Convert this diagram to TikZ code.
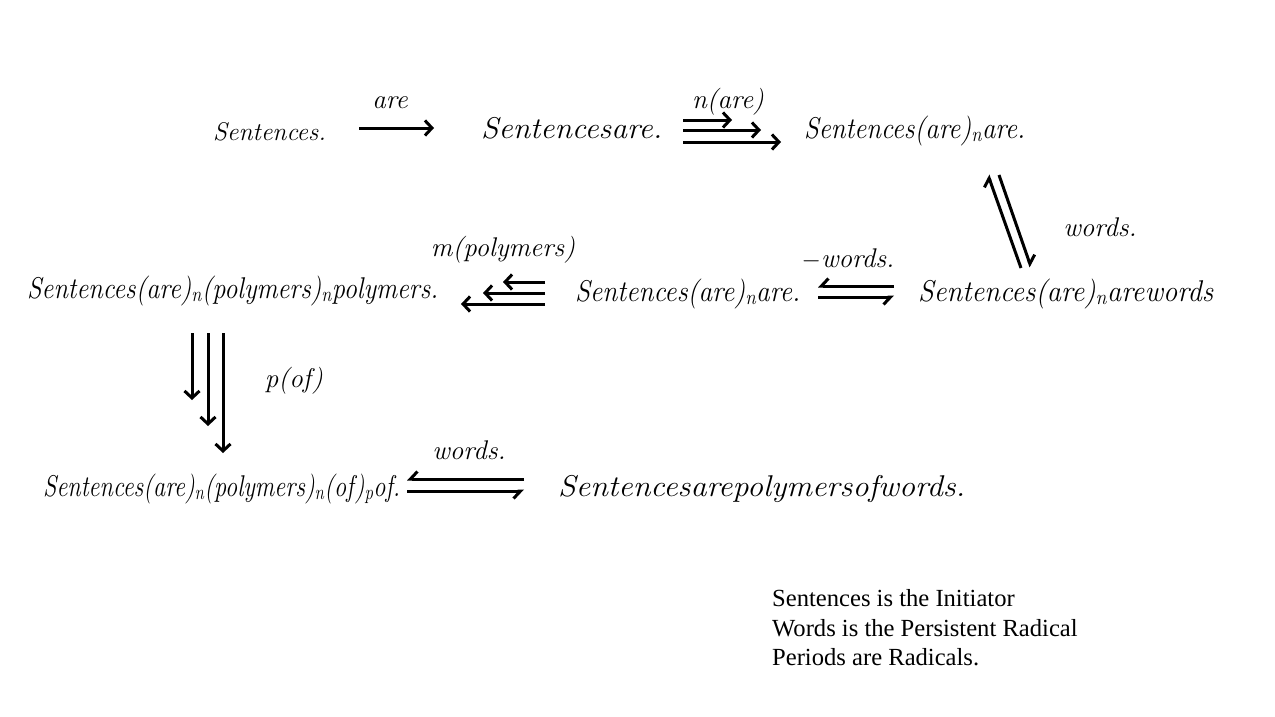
\documentclass[tikz,border=0pt]{standalone}
\usepackage{fontspec}
\usepackage{graphicx}
\newfontfamily\tnr{Liberation Serif}
\newcommand\fitw[2]{\resizebox{#1pt}{\height}{#2}}
\usetikzlibrary{arrows.meta}
\begin{document}
\begin{tikzpicture}[x=1pt,y=-1pt,
  cur/.style={inner sep=0, anchor=base west, font=\fontsize{30}{36}\selectfont\itshape},
  lab/.style={inner sep=0, anchor=base, font=\fontsize{27}{32}\selectfont\itshape},
  note/.style={inner sep=0, anchor=base west, font=\tnr\fontsize{24.6}{29}\selectfont},
  arr/.style={line width=3pt, -{Straight Barb[length=7pt,width=15pt]}},
  hl/.style={line width=3pt, -{Straight Barb[left,length=7pt,width=15pt]}},
  hr/.style={line width=3pt, -{Straight Barb[right,length=7pt,width=15pt]}}]
\useasboundingbox (0,0) rectangle (1275,717);
% nodes
\node[lab, anchor=base west, font=\fontsize{25.5}{30}\selectfont\itshape] (n1) at (213,140) {Sentences.};
\node[cur] (n2) at (481,138) {\fitw{181}{Sentencesare.}};
\node[cur] (n3) at (804,138) {\fitw{221}{Sentences(are)\textsubscript{n}are.}};
\node[cur] (n4) at (918,301) {\fitw{295}{Sentences(are)\textsubscript{n}arewords}};
\node[cur] (n5) at (575,301) {\fitw{225}{Sentences(are)\textsubscript{n}are.}};
\node[cur] (n6) at (27,298) {\fitw{411}{Sentences(are)\textsubscript{n}(polymers)\textsubscript{n}polymers.}};
\node[cur] (n7) at (43,496) {\fitw{357}{Sentences(are)\textsubscript{n}(polymers)\textsubscript{n}(of)\textsubscript{p}of.}};
\node[cur] (n8) at (558,496) {\fitw{407}{Sentencesarepolymersofwords.}};
% labels
\node[lab] (l1) at (390,108) {are};
\node[lab] (l2) at (728,108) {n(are)};
\node[lab] (l3) at (1100,236) {words.};
\node[lab] (l4) at (848,267) {$-$words.};
\node[lab] (l5) at (503,256) {m(polymers)};
\node[lab] (l6) at (294,387) {p(of)};
\node[lab] (l7) at (469,459) {words.};
% notes
\node[note] (t1) at (772,606) {Sentences is the Initiator};
\node[note] (t2) at (772,636) {Words is the Persistent Radical};
\node[note] (t3) at (772,665) {Periods are Radicals.};
% arrow end points
\coordinate (a1s) at (359,128); \coordinate (a1e) at (434,128);
\coordinate (b1s) at (683,120); \coordinate (b1e) at (732,120);
\coordinate (b2s) at (683,130); \coordinate (b2e) at (761,130);
\coordinate (b3s) at (683,142); \coordinate (b3e) at (781,142);
\coordinate (c1s) at (1021,268); \coordinate (c1e) at (988,175);
\coordinate (c2s) at (999,175); \coordinate (c2e) at (1031,267);
\coordinate (d1s) at (894,286); \coordinate (d1e) at (818,286);
\coordinate (d2s) at (818,297); \coordinate (d2e) at (894,297);
\coordinate (e1s) at (545,282); \coordinate (e1e) at (503,282);
\coordinate (e2s) at (545,293); \coordinate (e2e) at (483,293);
\coordinate (e3s) at (545,304); \coordinate (e3e) at (461,304);
\coordinate (f1s) at (192,333); \coordinate (f1e) at (192,400);
\coordinate (f2s) at (208,333); \coordinate (f2e) at (208,426);
\coordinate (f3s) at (223,333); \coordinate (f3e) at (223,453);
\coordinate (g1s) at (524,479); \coordinate (g1e) at (407,479);
\coordinate (g2s) at (407,491); \coordinate (g2e) at (524,491);
% connectors
\draw[arr] (a1s) -- (a1e);
\draw[arr] (b1s) -- (b1e);
\draw[arr] (b2s) -- (b2e);
\draw[arr] (b3s) -- (b3e);
\draw[hl] (c1s) -- (c1e);
\draw[hl] (c2s) -- (c2e);
\draw[hr] (d1s) -- (d1e);
\draw[hr] (d2s) -- (d2e);
\draw[arr] (e1s) -- (e1e);
\draw[arr] (e2s) -- (e2e);
\draw[arr] (e3s) -- (e3e);
\draw[arr] (f1s) -- (f1e);
\draw[arr] (f2s) -- (f2e);
\draw[arr] (f3s) -- (f3e);
\draw[hr] (g1s) -- (g1e);
\draw[hr] (g2s) -- (g2e);
\end{tikzpicture}
\end{document}
